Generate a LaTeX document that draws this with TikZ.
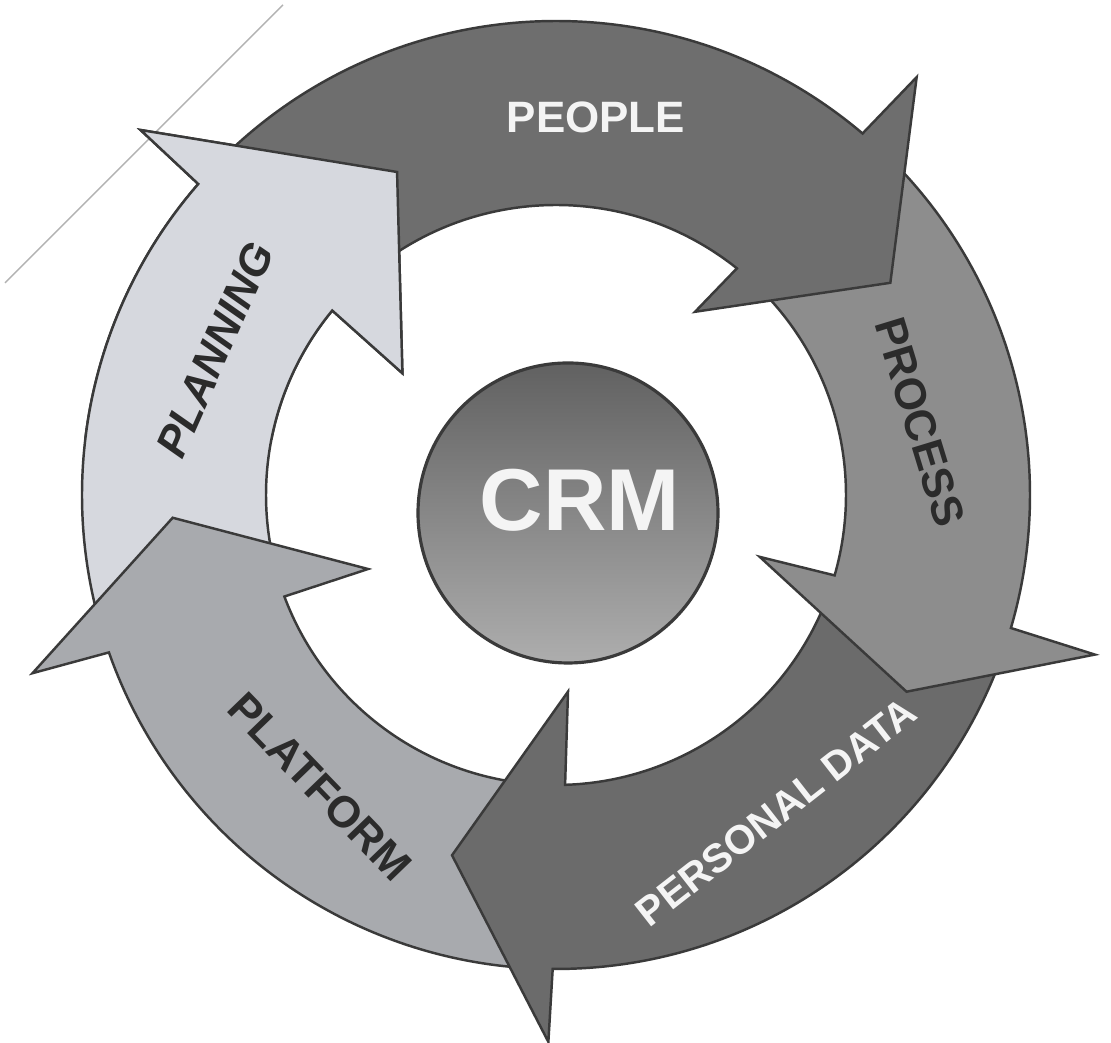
\documentclass[tikz,border=0pt]{standalone}
\usepackage{fontspec}
\setmainfont{Liberation Sans}
\definecolor{cpeople}{HTML}{6E6E6E}
\definecolor{cprocess}{HTML}{8D8D8D}
\definecolor{cdata}{HTML}{6B6B6B}
\definecolor{cplatform}{HTML}{A8AAAE}
\definecolor{cplanning}{HTML}{D6D8DE}
\definecolor{edgecol}{HTML}{3A3A3A}
\definecolor{darktext}{HTML}{2B2B2B}
\definecolor{lighttext}{HTML}{F4F4F4}
\tikzset{
  band/.style={fill=#1, draw=edgecol, line width=0.7pt, line join=miter},
  lbl/.style={font=\bfseries\fontsize{12.5}{14}\selectfont, inner sep=0pt},
  darklbl/.style={lbl, text=darktext},
  whitelbl/.style={lbl, text=lighttext},
}
% #1 colour, #2 tail angle, #3 outer notch angle, #4 outer barb, #5 tip, #6 inner barb, #7 inner notch angle
\newcommand{\ringarrow}[7]{%
  \path[band=#1] (#2:4.74) arc[start angle=#2, end angle=#3, radius=4.74]
    -- (#4) -- (#5) -- (#6) -- (#7:2.90)
    arc[start angle=#7, end angle=#2, radius=2.90] -- cycle;}
\begin{document}
\begin{tikzpicture}
\useasboundingbox (0,0) rectangle (11.11,10.43);
\fill[white] (0,0) rectangle (11.11,10.43);
% faint scan line
\coordinate (ls) at (2.83,10.38);
\coordinate (le) at (0.05,7.60);
\draw[gray!60, line width=0.4pt] (ls) -- (le);
\begin{scope}[shift={(5.56,5.48)}]
  \ringarrow{cplanning}{197}{139}{138.7:5.53}{116.2:3.60}{141.6:1.96}{140.5}
  \ringarrow{cplatform}{268}{199.4}{198.8:5.53}{183.4:3.84}{201.5:2.02}{200.5}
  \ringarrow{cdata}{-19}{-90.4}{-90.8:5.47}{-106.1:3.75}{-86.5:1.97}{-88.2}
  \ringarrow{cprocess}{47}{-16.3}{-16.5:5.62}{-29.3:4.02}{-16.9:2.13}{-16.1}
  \ringarrow{cpeople}{137}{49.7}{49.2:5.52}{32.4:3.96}{52.8:2.30}{51.4}
\end{scope}
% PLANNING head lies over the PEOPLE tail
\begin{scope}
  \clip (0,6.03) rectangle (4.35,10.43);
  \begin{scope}[shift={(5.56,5.48)}]
    \ringarrow{cplanning}{197}{139}{138.7:5.53}{116.2:3.60}{141.6:1.96}{140.5}
  \end{scope}
\end{scope}
% centre circle
\node[circle, minimum size=3.0cm, draw=edgecol, line width=0.9pt,
      top color=black!62, bottom color=black!32, inner sep=0pt] (crmcircle) at (5.68,5.30) {};
\node[whitelbl, font=\bfseries\fontsize{25}{28}\selectfont] (crm) at (5.80,5.43) {CRM};
% labels
\node[whitelbl] (people) at (5.96,9.26) {PEOPLE};
\node[darklbl, rotate=-73] (process) at (9.20,6.21) {PROCESS};
\node[whitelbl, rotate=38, font=\bfseries\fontsize{11.5}{13}\selectfont] (pdata) at (7.76,2.31) {PERSONAL DATA};
\node[darklbl, rotate=-46] (platform) at (3.20,2.56) {PLATFORM};
\node[darklbl, rotate=66, font=\bfseries\itshape\fontsize{12.5}{14}\selectfont] (planning) at (2.15,6.93) {PLANNING};
\end{tikzpicture}
\end{document}
